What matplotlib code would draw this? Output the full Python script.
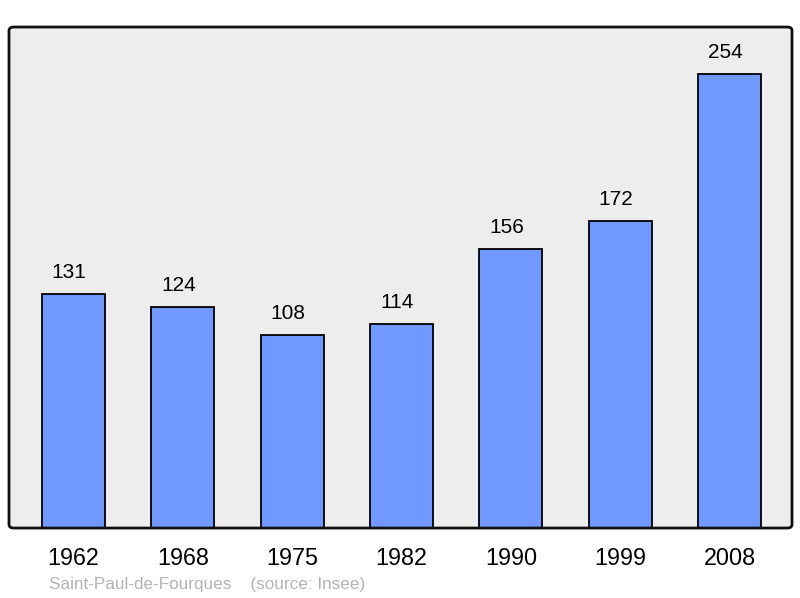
import matplotlib.pyplot as plt
from matplotlib.patches import FancyBboxPatch

years = ['1962', '1968', '1975', '1982', '1990', '1999', '2008']
population = [131, 124, 108, 114, 156, 172, 254]

plt.rcParams['font.family'] = ['Liberation Sans', 'DejaVu Sans']

fig = plt.figure(figsize=(8, 5.98), dpi=100)
ax = fig.add_axes([0.01125, 0.117, 0.97875, 0.8378])
ax.set_facecolor('#ededed')

x = range(len(years))
ax.bar(x, population, width=0.575, color='#7098ff', edgecolor='black', linewidth=1.3, zorder=2)

for xi, v in zip(x, population):
    ax.text(xi - 0.04, v + 12.0, str(v), ha='center', va='center', fontsize=15, color='black')

ax.set_xlim(-0.589, 6.571)
ax.set_ylim(0, 280.5)
ax.set_xticks(list(x))
ax.set_xticklabels(years, fontsize=16.8)
ax.tick_params(axis='x', length=0, pad=13.5)
ax.set_yticks([])
for s in ax.spines.values():
    s.set_visible(False)

# rounded frame around plot area
frame = FancyBboxPatch((0.01125, 0.117), 0.97875, 0.8378,
                       boxstyle='round,pad=0,rounding_size=0.006',
                       transform=fig.transFigure, fill=False,
                       edgecolor='#111111', linewidth=2, zorder=5)
fig.patches.append(frame)

fig.text(49 / 800, 1 - 584 / 598, 'Saint-Paul-de-Fourques    (source: Insee)',
         fontsize=12.3, color='#b3b3b3', ha='left', va='center')

fig.savefig('out.png', dpi=100)
